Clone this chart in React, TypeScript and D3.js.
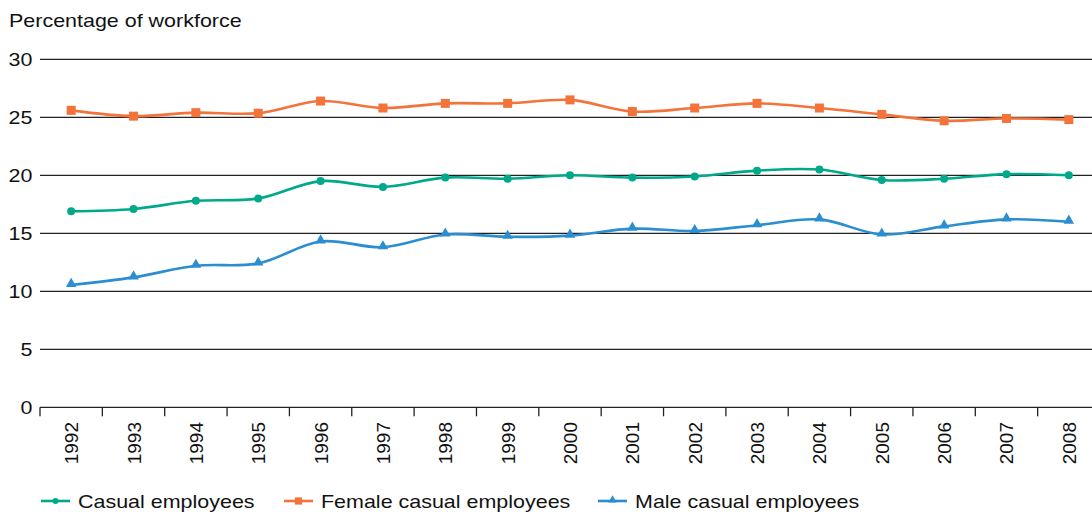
import React, { useRef, useEffect } from 'react';
import * as d3 from 'd3';

// values
const years = ['1992', '1993', '1994', '1995', '1996', '1997', '1998', '1999', '2000',
  '2001', '2002', '2003', '2004', '2005', '2006', '2007', '2008'];
const casual = [16.9, 17.1, 17.8, 18.0, 19.5, 19.0, 19.8, 19.7, 20.0, 19.8, 19.9, 20.4, 20.5, 19.6, 19.7, 20.1, 20.0];
const female = [25.6, 25.1, 25.4, 25.35, 26.4, 25.8, 26.2, 26.2, 26.5, 25.5, 25.8, 26.2, 25.8, 25.25, 24.7, 24.9, 24.8];
const male = [10.55, 11.2, 12.2, 12.4, 14.3, 13.8, 14.9, 14.7, 14.8, 15.4, 15.2, 15.7, 16.2, 14.9, 15.6, 16.2, 16.0];
const yTicks = [0, 5, 10, 15, 20, 25, 30];

const series = [
  { name: 'Casual employees', values: casual, color: '#00a98a', marker: 'circle' },
  { name: 'Female casual employees', values: female, color: '#f3733b', marker: 'square' },
  { name: 'Male casual employees', values: male, color: '#2b8ed0', marker: 'triangle' },
];

const FONT = 'Liberation Sans, Arial, Helvetica, sans-serif';
const SX = 1.13; // text in the picture is a little stretched sideways

export default function App() {
  const svgRef = useRef<SVGSVGElement>(null);

  useEffect(() => {
    if (!svgRef.current) return;
    const svg = d3.select(svgRef.current);
    svg.selectAll('*').remove();

    const x = d3.scaleBand().domain(years).range([40, 1100]).padding(0);
    const y = d3.scaleLinear().domain([0, 30]).range([407.3, 59.3]);
    const cx = (d: string) => (x(d) as number) + x.bandwidth() / 2;

    const stretchedText = (g: any, tx: number, ty: number, txt: string, anchor = 'start') =>
      g.append('text')
        .attr('transform', `translate(${tx},${ty}) scale(${SX},1)`)
        .attr('text-anchor', anchor)
        .attr('font-family', FONT)
        .attr('font-size', 19)
        .attr('fill', '#111')
        .text(txt);

    // title
    stretchedText(svg, 9, 27, 'Percentage of workforce');

    // gridlines + y labels
    yTicks.forEach(t => {
      if (t > 0) {
        svg.append('line')
          .attr('x1', 40).attr('x2', 1092)
          .attr('y1', y(t)).attr('y2', y(t))
          .attr('stroke', '#222').attr('stroke-width', 1.3);
      }
      stretchedText(svg, 32.5, y(t) + 7, String(t), 'end');
    });

    // x axis
    svg.append('line')
      .attr('x1', 40).attr('x2', 1092)
      .attr('y1', y(0)).attr('y2', y(0))
      .attr('stroke', '#222').attr('stroke-width', 1.3);
    years.forEach(yr => {
      const x0 = x(yr) as number;
      svg.append('line')
        .attr('x1', x0).attr('x2', x0)
        .attr('y1', y(0)).attr('y2', y(0) + 9)
        .attr('stroke', '#222').attr('stroke-width', 1.3);
      svg.append('text')
        .attr('transform', `translate(${cx(yr) + 7},422) rotate(-90)`)
        .attr('text-anchor', 'end')
        .attr('font-family', FONT)
        .attr('font-size', 19)
        .attr('fill', '#111')
        .text(yr);
    });

    const line = d3.line<number>()
      .x((_, i) => cx(years[i]))
      .y(d => y(d))
      .curve(d3.curveCatmullRom.alpha(0.5));

    const drawMarker = (g: any, kind: string, px: number, py: number, color: string, s = 1) => {
      if (kind === 'circle') {
        g.append('circle').attr('cx', px).attr('cy', py).attr('r', 4 * s).attr('fill', color);
      } else if (kind === 'square') {
        const h = 4.5 * s;
        g.append('rect').attr('x', px - h).attr('y', py - h).attr('width', 2 * h).attr('height', 2 * h).attr('fill', color);
      } else {
        const sym = d3.symbol().type(d3.symbolTriangle).size(48 * s * s);
        g.append('path').attr('d', sym()).attr('transform', `translate(${px},${py - 1})`).attr('fill', color);
      }
    };

    series.forEach(s => {
      svg.append('path')
        .attr('d', line(s.values))
        .attr('fill', 'none')
        .attr('stroke', s.color)
        .attr('stroke-width', 2.6);
      s.values.forEach((v, i) => drawMarker(svg, s.marker, cx(years[i]), y(v), s.color));
    });

    // legend
    const legendX = [41, 284, 598];
    series.forEach((s, i) => {
      const lx = legendX[i];
      const ly = 501;
      svg.append('line')
        .attr('x1', lx).attr('x2', lx + 29)
        .attr('y1', ly).attr('y2', ly)
        .attr('stroke', s.color).attr('stroke-width', 2.6);
      drawMarker(svg, s.marker, lx + 14.5, ly, s.color, s.marker === 'circle' ? 0.75 : 0.8);
      stretchedText(svg, lx + 37, ly + 6.5, s.name);
    });
  }, []);

  return (
    <svg
      ref={svgRef}
      width={1092}
      height={512}
      style={{ position: 'absolute', left: 0, top: 0, background: '#fff' }}
    />
  );
}
